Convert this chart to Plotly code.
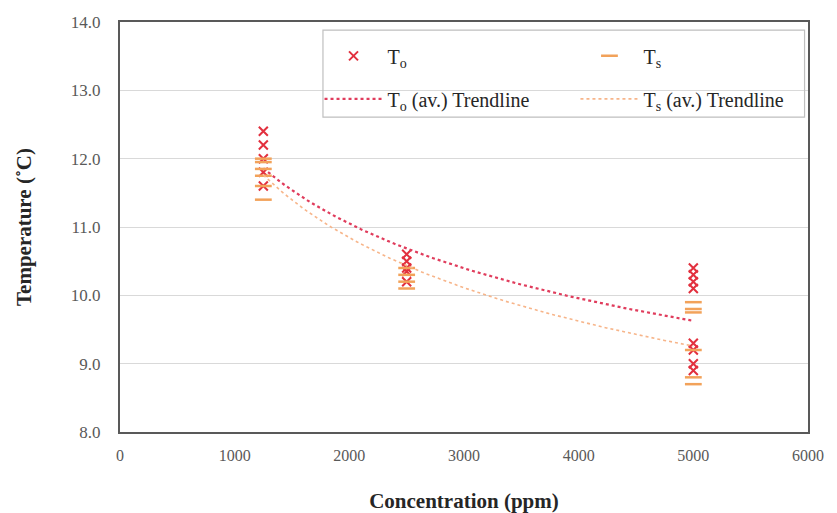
import numpy as np
import plotly.graph_objects as go

# Data
conc_to = [1250]*5 + [2500]*5 + [5000]*8
temp_to = [12.4, 12.2, 12.0, 11.8, 11.6,
           10.6, 10.5, 10.4, 10.35, 10.2,
           10.4, 10.3, 10.2, 10.1, 9.3, 9.2, 9.0, 8.9]
conc_ts = [1250]*6 + [2500]*4 + [5000]*6
temp_ts = [12.0, 11.95, 11.85, 11.75, 11.6, 11.4,
           10.4, 10.3, 10.2, 10.1,
           9.9, 9.8, 9.75, 9.2, 8.8, 8.7]

avg_conc = [1250, 2500, 5000]
to_avg = [11.85, 10.7, 9.62]
ts_avg = [11.75, 10.45, 9.25]

x_ticks = [0, 1000, 2000, 3000, 4000, 5000, 6000]
y_ticks = [8.0, 9.0, 10.0, 11.0, 12.0, 13.0, 14.0]

def power_fit(xs, ys):
    b, a = np.polyfit(np.log(xs), np.log(ys), 1)
    xx = np.linspace(min(xs), max(xs), 120)
    return xx, np.exp(a) * xx ** b

fx_to, fy_to = power_fit(avg_conc, to_avg)
fx_ts, fy_ts = power_fit(avg_conc, ts_avg)

serif = "Liberation Serif, Times New Roman, serif"
red = "#e2303e"
orange = "#f2a25a"

fig = go.Figure()
fig.add_trace(go.Scatter(x=conc_to, y=temp_to, mode="markers", name="T<sub>o</sub>",
                         legend="legend", legendgroup="a",
                         marker=dict(symbol="x-thin", size=9, line=dict(width=2, color=red), color=red)))
fig.add_trace(go.Scatter(x=fx_to, y=fy_to, mode="lines", name="T<sub>o</sub> (av.) Trendline",
                         legend="legend", legendgroup="b",
                         line=dict(color="#e03c5c", width=2.2, dash="dot")))
fig.add_trace(go.Scatter(x=conc_ts, y=temp_ts, mode="markers", name="T<sub>s</sub>",
                         legend="legend2", legendgroup="c",
                         marker=dict(symbol="line-ew", size=12, line=dict(width=2.5, color=orange), color=orange)))
fig.add_trace(go.Scatter(x=fx_ts, y=fy_ts, mode="lines", name="T<sub>s</sub> (av.) Trendline",
                         legend="legend2", legendgroup="d",
                         line=dict(color="#f7b58a", width=1.6, dash="dot")))

leg_common = dict(orientation="v", xanchor="left", yanchor="top", bgcolor="rgba(0,0,0,0)",
                  borderwidth=0, font=dict(family=serif, size=20, color="#262626"),
                  tracegroupgap=14, itemwidth=58)

fig.update_layout(
    width=837, height=513,
    margin=dict(l=120, r=29, t=22, b=81),
    plot_bgcolor="white", paper_bgcolor="white",
    font=dict(family=serif, size=16, color="#404040"),
    legend=dict(x=0.29, y=0.965, **leg_common),
    legend2=dict(x=0.662, y=0.965, **leg_common),
    showlegend=True,
    shapes=[dict(type="rect", xref="paper", yref="paper", x0=0.295, x1=0.995, y0=0.768, y1=0.98,
                 line=dict(color="#bfbfbf", width=1.2), fillcolor="rgba(0,0,0,0)", layer="above")],
)
fig.update_xaxes(range=[0, 6000], tickvals=x_ticks, ticktext=[str(v) for v in x_ticks],
                 showgrid=False, showline=True, linecolor="#595959", linewidth=2, mirror=True,
                 ticks="", ticklabelstandoff=8, zeroline=False, automargin=False,
                 tickfont=dict(family=serif, size=16, color="#595959"),
                 title=dict(text="<b>Concentration (ppm)</b>", font=dict(family=serif, size=21, color="#262626"), standoff=31))
fig.update_yaxes(range=[8, 14], tickvals=y_ticks, ticktext=[f"{v:.1f}" for v in y_ticks],
                 showgrid=True, gridcolor="#d9d9d9", gridwidth=1,
                 showline=True, linecolor="#595959", linewidth=2, mirror=True,
                 ticks="", ticklabelstandoff=14, zeroline=False, automargin=False,
                 tickfont=dict(family=serif, size=17, color="#595959"),
                 title=dict(text="<b>Temperature (˚C)</b>", font=dict(family=serif, size=21, color="#262626"), standoff=33))

fig.write_html("out.html")
